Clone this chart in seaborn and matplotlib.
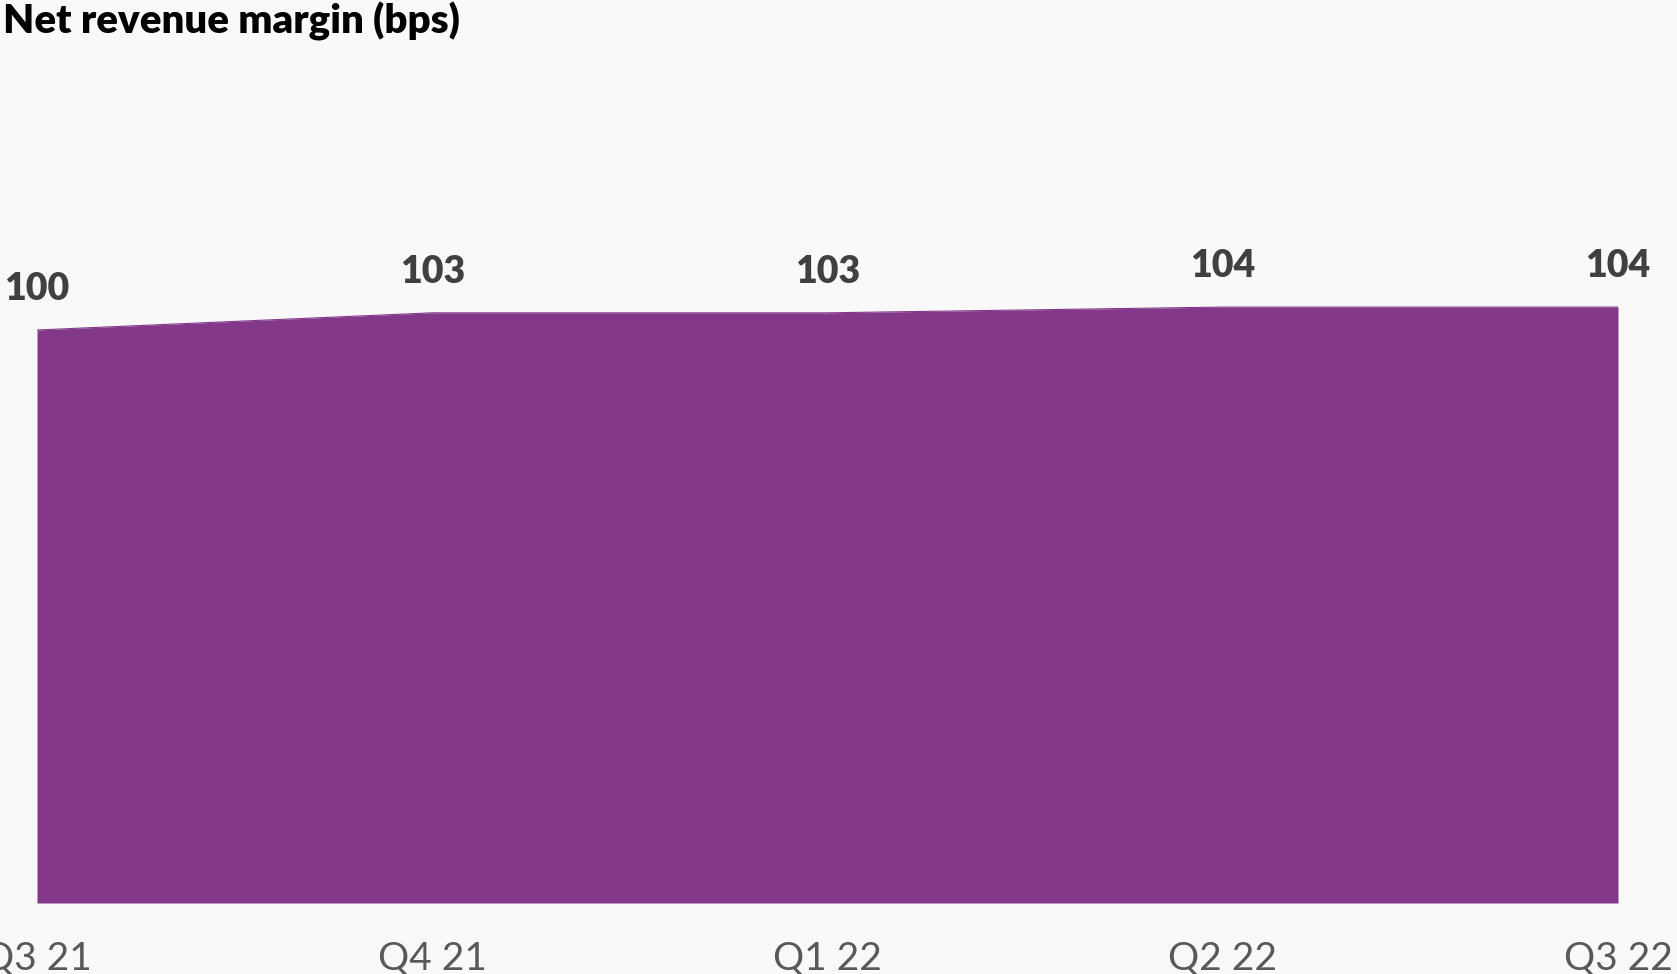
import matplotlib
matplotlib.use("Agg")
import matplotlib.pyplot as plt
import seaborn as sns
import pandas as pd

quarters = ["Q3 21", "Q4 21", "Q1 22", "Q2 22", "Q3 22"]
margin_bps = [100, 103, 103, 104, 104]

title_text = "Net revenue margin (bps)"
fill_color = "#843889"
bg_color = "#f9f9f9"

sns.set_theme(style="white")
plt.rcParams["font.family"] = ["Lato", "DejaVu Sans"]

df = pd.DataFrame({"quarter": quarters, "pos": range(len(quarters)), "margin": margin_bps})

fig = plt.figure(figsize=(16.77, 9.74), dpi=100, facecolor=bg_color)
ax = fig.add_axes([37 / 1677, 1 - 903 / 974, (1618 - 37) / 1677, 859.5 / 974])
ax.set_facecolor(bg_color)

sns.lineplot(data=df, x="pos", y="margin", ax=ax, color=fill_color, linewidth=0.8)
ax.fill_between(df["pos"], 0, df["margin"], color=fill_color, linewidth=0)

for x, y in zip(df["pos"], df["margin"]):
    ax.annotate(f"{y}", (x, y), xytext=(0, 17), textcoords="offset points",
                ha="center", va="bottom", fontsize=27, fontweight="heavy",
                color="#404040", annotation_clip=False)

ax.set_xlim(0, len(quarters) - 1)
ax.set_ylim(0, 150)
ax.set_xticks(df["pos"])
ax.set_xticklabels(quarters, fontsize=28, color="#595959")
ax.tick_params(axis="x", length=0, pad=27)
ax.set_yticks([])
ax.set_xlabel("")
ax.set_ylabel("")
for s in ax.spines.values():
    s.set_visible(False)

fig.text(3 / 1677, 1 - 2 / 974, title_text, ha="left", va="top",
         fontsize=29, fontweight="heavy", color="#000000")

fig.savefig("out.png", dpi=100, facecolor=bg_color)
